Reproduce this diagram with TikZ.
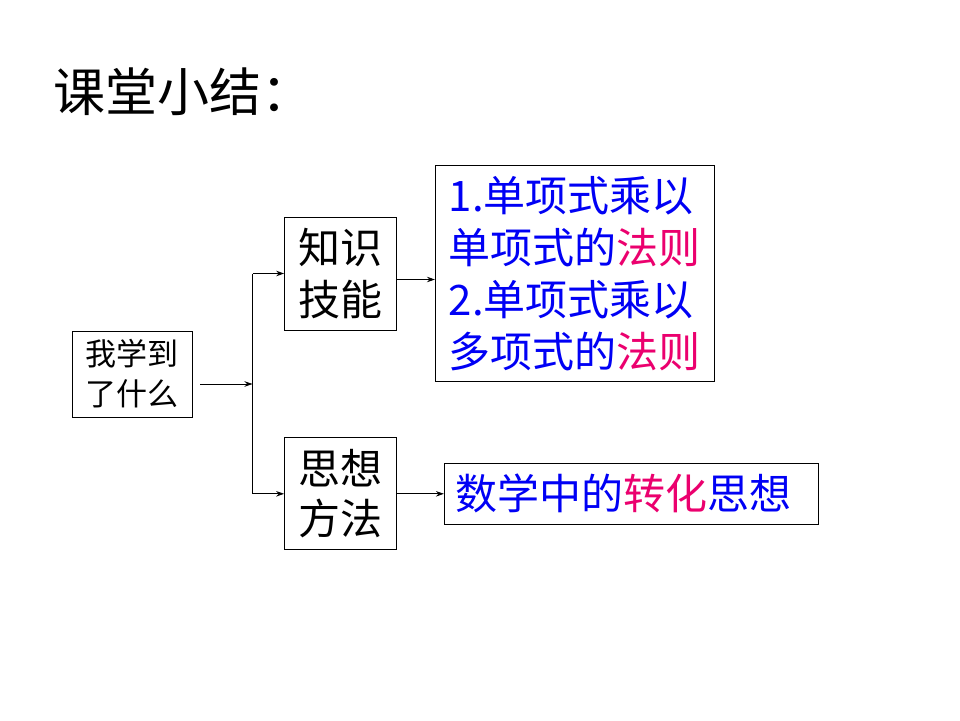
\documentclass[tikz,border=0pt]{standalone}
\usepackage{fontspec}
\setmainfont{Noto Sans CJK SC}
\usetikzlibrary{arrows.meta,positioning}

\definecolor{kblue}{RGB}{0,0,245}
\definecolor{kred}{RGB}{235,0,110}

\begin{document}
\begin{tikzpicture}[x=1pt,y=-1pt,->,>={Stealth[length=8pt,width=5.5pt]},line width=0.9pt,
        box/.style={draw,thick,align=left,inner sep=0pt},
        bigtext/.style={font=\fontsize{42}{52}\selectfont}]

  \useasboundingbox[fill=white] (0,0) rectangle (960,720);

  \node[anchor=west,font=\fontsize{52}{60}\selectfont] (title) at (50,92) {课堂小结：};

  \node[box,minimum width=120pt,minimum height=86pt,
        font=\fontsize{31}{40}\selectfont] (learn) at (132,374) {我学到\\了什么};
  \node[box,bigtext,minimum width=112pt,minimum height=113pt] (skill) at (340.5,273.5) {知识\\技能};
  \node[box,minimum width=112pt,minimum height=112pt,
        font=\fontsize{42}{50}\selectfont] (method) [below=107pt of skill] {思想\\方法};

  \node[box,bigtext,minimum width=279pt,minimum height=216pt,text=kblue]
        (rules) [right=38pt of skill] {1.单项式乘以\\单项式的\textcolor{kred}{法则}\\2.单项式乘以\\多项式的\textcolor{kred}{法则}};
  \node[box,bigtext,text width=352pt,inner xsep=11pt,minimum height=61pt,text=kblue]
        (idea) [right=47pt of method] {数学中的\textcolor{kred}{转化}思想};

  \coordinate (j) at (252.5,384);
  \draw[shorten <=8pt] (learn.east |- j) -- (j);
  \draw[-] (j) -- (j |- skill);
  \draw[-] (j) -- (j |- method);
  \draw (j |- skill) -- (skill.west);
  \draw (j |- method) -- (method.west);
  \draw ([yshift=-6pt]skill.east) -- ([yshift=-6pt]skill.east -| rules.west);
  \draw (method.east) -- (method -| idea.west);

\end{tikzpicture}
\end{document}
